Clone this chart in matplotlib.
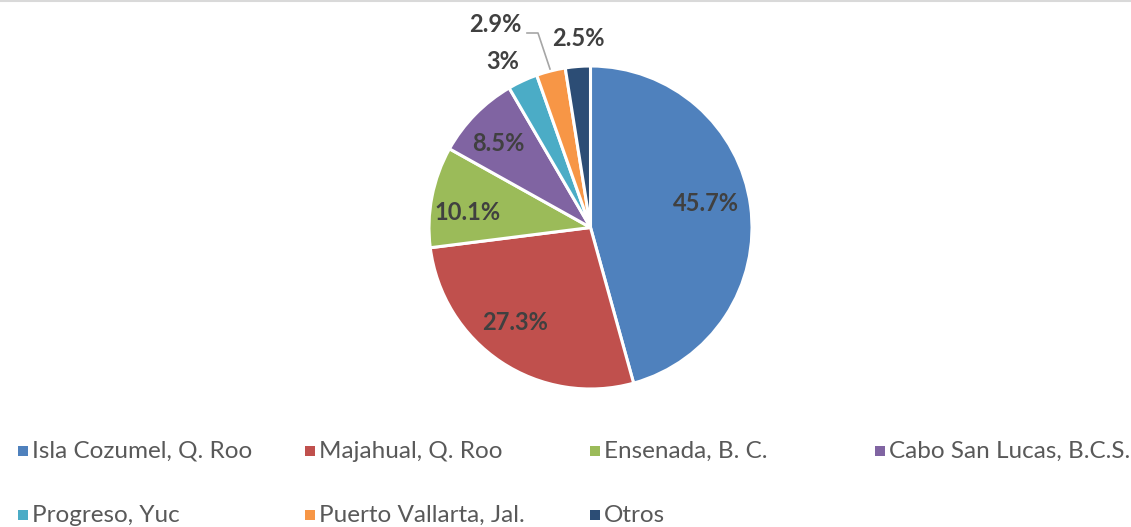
import matplotlib
matplotlib.use("Agg")
import numpy as np
import matplotlib.pyplot as plt
from matplotlib.patches import Rectangle
from matplotlib.lines import Line2D

# Data
labels = ["Isla Cozumel, Q. Roo", "Majahual, Q. Roo", "Ensenada, B. C.",
          "Cabo San Lucas, B.C.S.", "Progreso, Yuc", "Puerto Vallarta, Jal.", "Otros"]
shares = [45.7, 27.3, 10.1, 8.5, 3.0, 2.9, 2.5]
pct_text = ["45.7%", "27.3%", "10.1%", "8.5%", "3%", "2.9%", "2.5%"]
colors = ["#4F81BD", "#C0504D", "#9BBB59", "#8064A2", "#4BACC6", "#F79646", "#2C4D75"]

plt.rcParams['font.family'] = ['Lato', 'DejaVu Sans']

fig = plt.figure(figsize=(11.31, 5.27), dpi=100)

# pie area in figure pixels: x 429..752, y 66..389 (from top)
W, H = 1131, 527
ax = fig.add_axes([429 / W, (H - 389) / H, 323 / W, 323 / H])

wedges, _ = ax.pie(shares, colors=colors, startangle=90, counterclock=False,
                   radius=1, wedgeprops=dict(edgecolor='white', linewidth=2.2))
ax.set_xlim(-1, 1)
ax.set_ylim(-1, 1)
ax.axis('off')

# label placement: (radius factor, angle shift in degrees) for each wedge
label_pos = [(0.73, 4), (0.75, -5), (0.77, 4), (0.77, 2),
             (1.16, 3), (1.39, 11), (1.17, -0.7)]

for w, txt, (rf, dang) in zip(wedges, pct_text, label_pos):
    mid = np.deg2rad((w.theta1 + w.theta2) / 2 + dang)
    ax.text(rf * np.cos(mid), rf * np.sin(mid), txt, ha='center', va='center',
            fontsize=17, fontweight='bold', color='#404040')

# leader line for the 2.9% label
def px(x, y):
    return ((x - 590.5) / 161.5, (227.5 - y) / 161.5)

lx, ly = zip(px(527, 33), px(538, 33), px(550, 69))
ax.add_line(Line2D(lx, ly, color='#A6A6A6', linewidth=1.2, clip_on=False))

# legend drawn as squares + text
col_x = [18, 305, 590, 875]
row_y = [451, 515]
for i, (lab, c) in enumerate(zip(labels, colors)):
    r, k = divmod(i, 4)
    x, y = col_x[k], row_y[r]
    fig.add_artist(Rectangle((x / W, (H - y - 5) / H), 10 / W, 10 / H,
                             transform=fig.transFigure, facecolor=c, edgecolor='none'))
    fig.text((x + 14) / W, (H - y) / H, lab, ha='left', va='center',
             fontsize=17.5, color='#595959')

# thin border line on top
fig.add_artist(Line2D([0, 1], [1 - 0.5 / H, 1 - 0.5 / H], transform=fig.transFigure,
                      color='#D9D9D9', linewidth=1.5))

fig.savefig("out.png", dpi=100, facecolor='white')
